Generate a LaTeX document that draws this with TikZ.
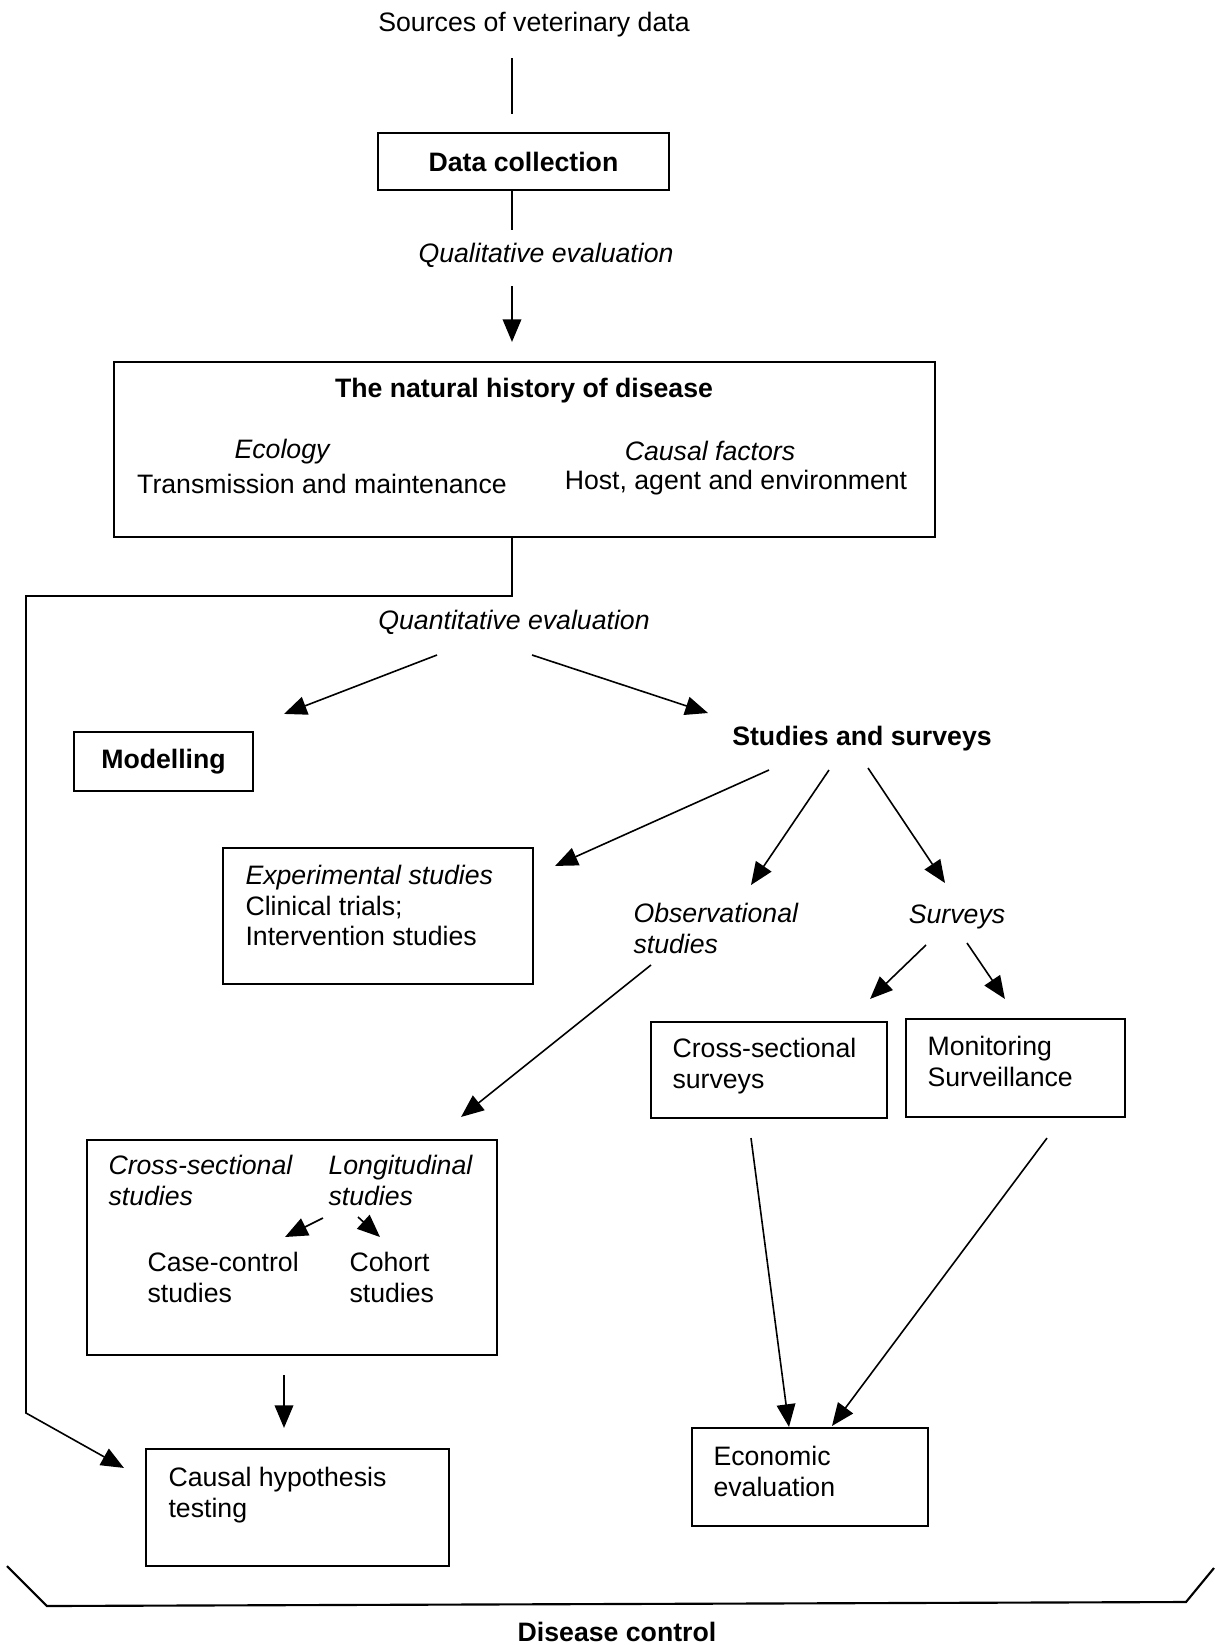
\documentclass[tikz,border=0pt]{standalone}
\usepackage{fontspec}
\setmainfont{Liberation Sans}
\usetikzlibrary{arrows.meta,calc}
\newlength{\pxl}
\setlength{\pxl}{0.375pt}
\newcommand{\figfont}{\fontsize{10pt}{11.3pt}\selectfont}

\begin{document}
\begin{tikzpicture}[x=0.375pt, y=-0.375pt, font=\figfont,
box/.style={rectangle, draw, line width=0.8pt, inner sep=0pt},
lab/.style={inner sep=0pt, align=left, anchor=north west},
txt/.style={inner sep=0pt},
arr/.style={-{Triangle[length=8.5pt,width=7pt]}, line width=0.6pt},
ln/.style={line width=0.6pt}]

\useasboundingbox (0,0) rectangle (1215,1645);

\node[txt] at (534,25) (src) {Sources of veterinary data};
\node[box, minimum width=291*\pxl, minimum height=57*\pxl, font=\figfont\bfseries] at (523.5,161.5) (dc) {Data collection};
\node[txt, font=\figfont\itshape] at (546,255) (qual) {Qualitative evaluation};

\node[box, minimum width=821*\pxl, minimum height=175*\pxl] at (524.5,449.5) (nh) {};
\node[txt, font=\figfont\bfseries] at (524,391) (nhtitle) {The natural history of disease};
\node[txt, font=\figfont\itshape] at (282,452) (eco) {Ecology};
\node[txt] at (322,484) (trans) {Transmission and maintenance};
\node[txt, font=\figfont\itshape] at (710,451) (cause) {Causal factors};
\node[txt] at (736,483) (host) {Host, agent and environment};

\node[txt, font=\figfont\itshape] at (514,622) (quant) {Quantitative evaluation};
\node[box, minimum width=179*\pxl, minimum height=59*\pxl, font=\figfont\bfseries] at (163.5,761.5) (model) {Modelling};
\node[txt, font=\figfont\bfseries] at (862,739) (studies) {Studies and surveys};

\node[box, minimum width=310*\pxl, minimum height=136*\pxl] at (378,916) (exp) {};
\node[lab] at (245,865) (exptxt) {\textit{Experimental studies}\\Clinical trials;\\Intervention studies};
\node[lab, font=\figfont\itshape] at (633,903) (obsst) {Observational\\studies};
\node[txt, font=\figfont\itshape] at (957,917) (surv) {Surveys};

\node[box, minimum width=236*\pxl, minimum height=96*\pxl] at (769,1070) (css) {};
\node[lab] at (672,1038) (csstxt) {Cross-sectional\\surveys};
\node[box, minimum width=219*\pxl, minimum height=98*\pxl] at (1015.5,1068) (mon) {};
\node[lab] at (927,1036) (montxt) {Monitoring\\Surveillance};

\node[box, minimum width=410*\pxl, minimum height=215*\pxl] at (292,1247.5) (obsbox) {};
\node[lab, font=\figfont\itshape] at (108,1155) (cross) {Cross-sectional\\studies};
\node[lab, font=\figfont\itshape] at (328,1155) (longi) {Longitudinal\\studies};
\node[lab] at (147,1252) (casec) {Case-control\\studies};
\node[lab] at (349,1252) (cohort) {Cohort\\studies};

\node[box, minimum width=303*\pxl, minimum height=117*\pxl] at (297.5,1507.5) (cht) {};
\node[lab] at (168,1467) (chttxt) {Causal hypothesis\\testing};
\node[box, minimum width=236*\pxl, minimum height=98*\pxl] at (810,1477) (econ) {};
\node[lab] at (713,1446) (econtxt) {Economic\\evaluation};

\node[txt, font=\figfont\bfseries] at (617,1632) (dctrl) {Disease control};

\draw[ln] ([shift={(-22,33)}]src.center) -- ([shift={(-11.5,-18)}]dc.north);
\draw[ln] ([shift={(-11.5,0)}]dc.south) -- ([shift={(-34,-25)}]qual.center);
\draw[arr] ([shift={(-34,31)}]qual.center) -- ([shift={(-12.5,-19)}]nh.north);

\coordinate (lbend) at (26,596);
\coordinate (lfoot) at (26,1413);
\draw[arr] ([shift={(-12.5,0)}]nh.south) |- (lbend) -- (lfoot) -- ([shift={(-21,20)}]cht.north west);

\draw[arr] ([shift={(-77,33)}]quant.center) -- ([shift={(30,-17)}]model.north east);
\draw[arr] ([shift={(18,33)}]quant.center) -- ([shift={(-154,-26)}]studies.center);

\draw[arr] ([shift={(-93,31)}]studies.center) -- ([shift={(21,19)}]exp.north east);
\draw[arr] ([shift={(-33,31)}]studies.center) -- ([shift={(118,-18)}]obsst.north west);
\draw[arr] ([shift={(6,29)}]studies.center) -- ([shift={(-12,-34)}]surv.center);

\draw[arr] ([shift={(-31,28)}]surv.center) -- ([shift={(-18,-22)}]css.north east);
\draw[arr] ([shift={(10,26)}]surv.center) -- ([shift={(100,-19)}]mon.north west);

\draw[arr] ([shift={(18,62)}]obsst.north west) -- ([shift={(-37,-22)}]obsbox.north east);
\draw[arr] ([shift={(-5,63)}]longi.north west) -- ([shift={(138,-15)}]casec.north west);
\draw[arr] ([shift={(30,62)}]longi.north west) -- ([shift={(31,-15)}]cohort.north west);
\draw[arr] ([shift={(-8,19)}]obsbox.south) -- ([shift={(-13.5,-20)}]cht.north);

\draw[arr] ([shift={(-18,19)}]css.south) -- ([shift={(-21,0)}]econ.north);
\draw[arr] ([shift={(31.5,20)}]mon.south) -- ([shift={(22,-1)}]econ.north);

\draw[line width=0.8pt] (7,1566) -- (47,1606) -- (1186,1602) -- (1214,1568);
\end{tikzpicture}
\end{document}
